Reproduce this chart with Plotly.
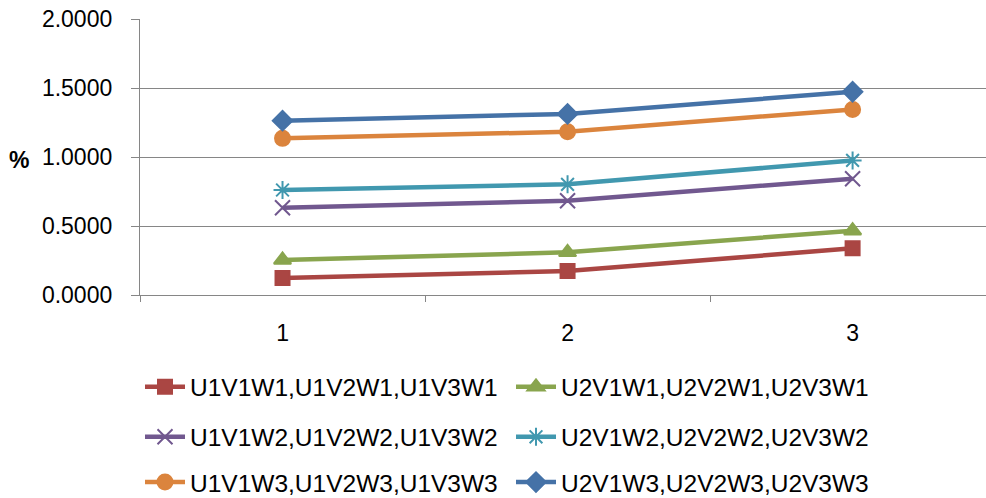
import plotly.graph_objects as go

categories = [1, 2, 3]
names = [
    "U1V1W1,U1V2W1,U1V3W1",
    "U2V1W1,U2V2W1,U2V3W1",
    "U1V1W2,U1V2W2,U1V3W2",
    "U2V1W2,U2V2W2,U2V3W2",
    "U1V1W3,U1V2W3,U1V3W3",
    "U2V1W3,U2V2W3,U2V3W3",
]
s_u1w1 = [0.124, 0.174, 0.338]
s_u2w1 = [0.254, 0.309, 0.466]
s_u1w2 = [0.632, 0.683, 0.843]
s_u2w2 = [0.761, 0.802, 0.975]
s_u1w3 = [1.135, 1.183, 1.345]
s_u2w3 = [1.263, 1.312, 1.473]
series = [s_u1w1, s_u2w1, s_u1w2, s_u2w2, s_u1w3, s_u2w3]
y_ticks = [0, 0.5, 1.0, 1.5, 2.0]

colors = ["#AA4643", "#89A54E", "#71588F", "#4198AF", "#DB843D", "#4572A7"]
symbols = ["square", "triangle-up", "x-thin-open", "asterisk-open", "circle", "diamond"]
sizes = [14, 15, 15, 15, 15, 15]
legends = ["legend", "legend", "legend2", "legend2", "legend3", "legend3"]

FONT = "Liberation Sans"
fig = go.Figure()
for i, (nm, ys) in enumerate(zip(names, series)):
    fig.add_trace(go.Scatter(
        x=categories, y=ys, name=nm, mode="lines+markers",
        line=dict(color=colors[i], width=4.5),
        marker=dict(symbol=symbols[i], size=sizes[i], color=colors[i],
                    line=dict(color=colors[i], width=2)),
        legend=legends[i],
    ))

gray = "#868686"
leg_common = dict(orientation="h", xanchor="left", yanchor="middle",
                  font=dict(family=FONT, size=24.5, color="#000000"),
                  entrywidth=316, bgcolor="rgba(0,0,0,0)", itemwidth=40)
fig.update_layout(
    width=986, height=498,
    margin=dict(l=140, r=0, t=19, b=203, autoexpand=False),
    paper_bgcolor="white", plot_bgcolor="white",
    font=dict(family=FONT, size=23, color="#000000"),
    showlegend=True,
    legend=dict(x=0.0, y=-0.333, **leg_common),
    legend2=dict(x=0.0, y=-0.514, **leg_common),
    legend3=dict(x=0.0, y=-0.678, **leg_common),
    xaxis=dict(
        range=[0.5, 3.468], tickvals=categories, ticktext=[str(c) for c in categories],
        showgrid=False, zeroline=False, showline=True, linecolor=gray, linewidth=1.3,
        ticks="", ticklabelstandoff=17,
        minor=dict(tickvals=[0.5, 1.5, 2.5], ticks="outside", ticklen=6, tickcolor=gray, tickwidth=1.3),
        tickfont=dict(family=FONT, size=23),
    ),
    yaxis=dict(
        range=[0, 2], tickvals=y_ticks, tickformat=".4f",
        showgrid=True, gridcolor=gray, gridwidth=1.3, zeroline=False,
        showline=True, linecolor=gray, linewidth=1.3,
        ticks="outside", ticklen=8, tickcolor=gray, tickwidth=1.3,
        ticklabelstandoff=14,
        tickfont=dict(family=FONT, size=23),
    ),
    annotations=[dict(text="<b>%</b>", xref="paper", yref="paper", x=-0.1435, y=0.489,
                      xanchor="center", yanchor="middle",
                      showarrow=False, font=dict(family=FONT, size=23, color="#000000"))],
)
fig.write_html("out.html")
